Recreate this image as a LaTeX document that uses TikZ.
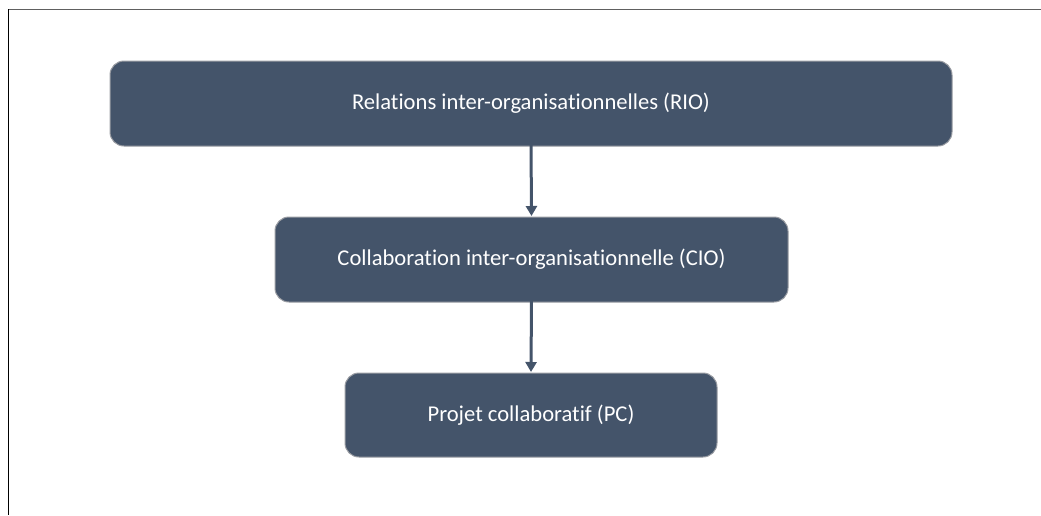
\documentclass[tikz,border=0pt]{standalone}
\usepackage{fontspec}
\setmainfont[Ligatures=NoCommon]{Carlito}
\usetikzlibrary{arrows.meta}
\definecolor{boxfill}{HTML}{44546A}
\definecolor{boxline}{HTML}{9A9DA3}
\definecolor{topline}{HTML}{606060}
\tikzset{
  flowbox/.style={draw=boxline, line width=1pt, fill=boxfill, rounded corners=14pt,
    text=white, font=\fontsize{22.6}{26}\selectfont, inner sep=0pt},
  flowarrow/.style={draw=boxfill, line width=3pt,
    -{Triangle[length=10pt,width=11pt]}, shorten >=0.5pt}
}
\begin{document}
\begin{tikzpicture}[x=1pt,y=-1pt]
\useasboundingbox (0,0) rectangle (1041,515);
\fill[white] (0,0) rectangle (1041,515);
\draw[topline, line width=1.2pt] (8,9.3) -- (1041,9.3);
\draw[black, line width=1.2pt] (8.3,9) -- (8.3,515);
\node[flowbox, minimum width=842pt, minimum height=85pt] (rio) at (531,103.5) {Relations inter-organisationnelles (RIO)};
\node[flowbox, minimum width=513pt, minimum height=85pt] (cio) at (531.5,259.5) {Collaboration inter-organisationnelle (CIO)};
\node[flowbox, minimum width=372pt, minimum height=84pt] (pc) at (531,415) {Projet collaboratif (PC)};
\coordinate (a1) at ([yshift=6pt]rio.south);
\coordinate (a2) at ([yshift=4pt]cio.south);
\draw[flowarrow] (a1) -- (cio.north);
\draw[flowarrow] (a2) -- (pc.north);
\end{tikzpicture}
\end{document}
